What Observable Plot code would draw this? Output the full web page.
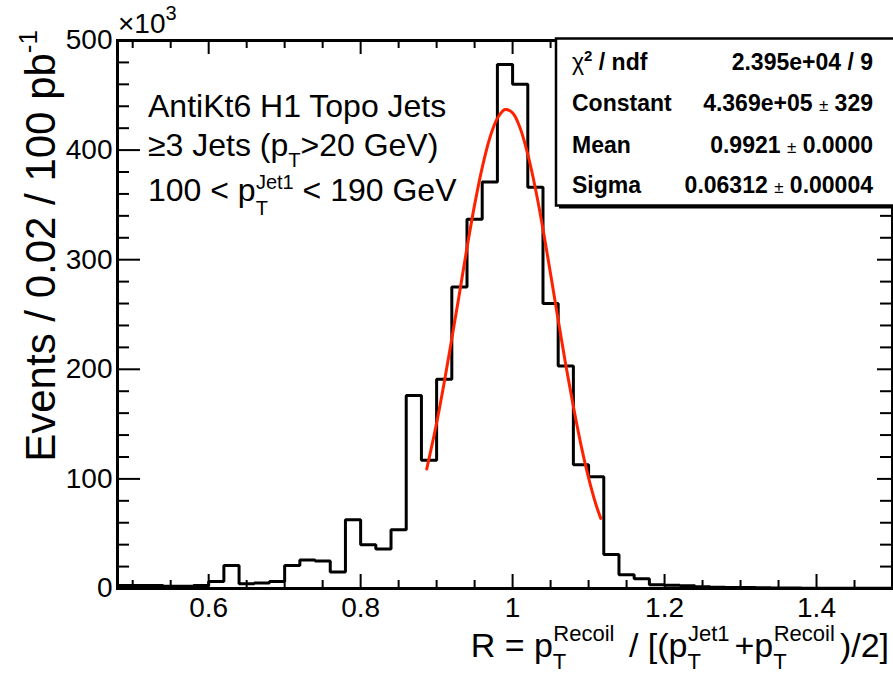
<!DOCTYPE html>
<html><head><meta charset="utf-8">
<script src="https://cdn.jsdelivr.net/npm/d3@7"></script>
<script src="https://cdn.jsdelivr.net/npm/@observablehq/plot@0.6"></script>
<style>
html,body{margin:0;padding:0;background:#fff;}
svg{display:block}
</style></head><body><div id="chart"></div>
<script>
// ---------- data ----------
const binLeft = [0.48,0.50,0.52,0.54,0.56,0.58,0.60,0.62,0.64,0.66,0.68,0.70,0.72,0.74,0.76,0.78,0.80,0.82,0.84,0.86,0.88,0.90,0.92,0.94,0.96,0.98,1.00,1.02,1.04,1.06,1.08,1.10,1.12,1.14,1.16,1.18,1.20,1.22,1.24,1.26,1.28,1.30,1.32,1.34,1.36,1.38,1.40,1.42,1.44,1.46,1.48];
const binRightEdge = 1.50;
// events per bin, in units of 10^3
const counts = [2.7,2.7,2.7,2.1,2.1,2.7,6.5,21,4.3,5.0,6.5,21,26,25,15,62.7,40,36,53.5,176,117,191,275,337,371,478,460,366,260,203,113,102,31,12.5,9,3.5,3,2.5,1.5,1.2,1.0,0.8,0.6,0.5,0.4,0.3,0.3,0.3,0.3,0.3,0.3];
// gaussian fit curve (x, 10^3 events)
const fitX = [0.887,0.90,0.91,0.92,0.93,0.94,0.95,0.96,0.97,0.98,0.99,1.00,1.01,1.02,1.03,1.04,1.05,1.06,1.07,1.08,1.09,1.10,1.11,1.116];
const fitY = [109,151,188,228,269,311,350,384,411,429,437,434,420,396,365,328,287,245,204,166,131,101,76,64];
// axis ticks
const xMajor = [0.6,0.8,1,1.2,1.4];
const xMinor = [0.5,0.55,0.65,0.7,0.75,0.85,0.9,0.95,1.05,1.1,1.15,1.25,1.3,1.35,1.45,1.5];
const yMajor = [0,100,200,300,400,500];
const yMinor = [20,40,60,80,120,140,160,180,220,240,260,280,320,340,360,380,420,440,460,480];
// fit statistics
const statNames = ["chi2","Constant","Mean","Sigma"];
const statValues = [["2.395e+04 / 9"],["4.369e+05","329"],["0.9921","0.0000"],["0.06312","0.00004"]];

// ---------- build ----------
const histPts = binLeft.map((x,i)=>({x, y:counts[i]}));
histPts.push({x:binRightEdge, y:counts[counts.length-1]});
const fitPts = fitX.map((x,i)=>({x, y:fitY[i]}));

const W=893,H=673,mL=117,mR=1,mT=40,mB=85;
const innerW=W-mL-mR, innerH=H-mT-mB;
const FONT="'Liberation Sans', Helvetica, Arial, sans-serif";

const plot = Plot.plot({
  width:W, height:H, marginLeft:mL, marginRight:mR, marginTop:mT, marginBottom:mB,
  style:{fontFamily:FONT, background:"#fff", color:"#000", overflow:"visible"},
  x:{domain:[0.48,1.5]},
  y:{domain:[0,500]},
  marks:[
    Plot.line(histPts,{x:"x",y:"y",curve:"step-after",stroke:"#000",strokeWidth:3,strokeLinejoin:"miter",strokeLinecap:"butt"}),
    Plot.line(fitPts,{x:"x",y:"y",curve:"catmull-rom",stroke:"#ff2200",strokeWidth:3}),
    Plot.tickX(xMinor,{x:d=>d,insetTop:innerH-8,stroke:"#000",strokeWidth:2}),
    Plot.tickX(xMajor,{x:d=>d,insetTop:innerH-14,stroke:"#000",strokeWidth:2}),
    Plot.tickX(xMinor,{x:d=>d,insetBottom:innerH-8,stroke:"#000",strokeWidth:2}),
    Plot.tickX(xMajor,{x:d=>d,insetBottom:innerH-14,stroke:"#000",strokeWidth:2}),
    Plot.tickY(yMinor,{y:d=>d,insetRight:innerW-12,stroke:"#000",strokeWidth:2}),
    Plot.tickY(yMajor,{y:d=>d,insetRight:innerW-23,stroke:"#000",strokeWidth:2}),
    Plot.tickY(yMinor,{y:d=>d,insetLeft:innerW-12,stroke:"#000",strokeWidth:2}),
    Plot.tickY(yMajor,{y:d=>d,insetLeft:innerW-15,stroke:"#000",strokeWidth:2}),
    Plot.frame({stroke:"#000",strokeWidth:3}),
    Plot.axisX(xMajor,{tickSize:0,tickPadding:9,fontSize:28,tickFormat:d=>String(d),label:null}),
    Plot.axisY(yMajor,{tickSize:0,tickPadding:5,fontSize:28,label:null})
  ]
});
document.getElementById("chart").appendChild(plot);

const svg = d3.select(plot);
// rich text helper: segments {t, s: size, b: baseline shift up, dx, w: weight, f: family}
function rich(parent, x, y, anchor, segs, base, transform){
  const t = parent.append("text").attr("text-anchor",anchor).attr("fill","#000")
    .style("font-family",FONT).style("font-size",base+"px");
  if (transform) t.attr("transform",transform); else t.attr("x",x).attr("y",y);
  let prev=0;
  for (const sg of segs){
    const b = sg.b||0;
    const ts = t.append("tspan").text(sg.t).attr("font-size",(sg.s||base)+"px");
    if (b!==prev) ts.attr("dy",-(b-prev));
    if (sg.dx) ts.attr("dx",sg.dx);
    if (sg.w) ts.attr("font-weight",sg.w);
    if (sg.f) ts.style("font-family",sg.f);
    prev=b;
  }
  return t;
}
const g = svg.append("g");
// x10^3
rich(g,118,33,"start",[{t:"×10"},{t:"3",s:20,b:13}],28);
// y title
rich(g,0,0,"end",[{t:"Events / 0.02 / 100 pb"},{t:"-1",s:26,b:18}],42,"translate(55,30) rotate(-90)");
// x title
const sub={s:22,b:-12}, sup=(t)=>({t,s:22,b:16,dx:-13});
rich(g,889,657,"end",[
  {t:"R = p"},{t:"T",...sub},sup("Recoil"),{t:" / [(p",b:0,dx:5},{t:"T",...sub},sup("Jet1"),
  {t:"+p",b:0,dx:5},{t:"T",...sub},sup("Recoil"),{t:")/2]",b:0,dx:5}],34);
// left annotation
rich(g,148,117,"start",[{t:"AntiKt6 H1 Topo Jets"}],32);
rich(g,148,156,"start",[{t:"≥3 Jets (p"},{t:"T",s:20,b:-11},{t:">20 GeV)",b:0}],32);
rich(g,148,201,"start",[{t:"100 < p"},{t:"T",s:20,b:-14},{t:"Jet1",s:20,b:12,dx:-12},{t:" < 190 GeV",b:0}],32);

// stats box
const bx=556, by=38.5, bw=345, bh=167;
g.append("rect").attr("x",bx+3).attr("y",by+3).attr("width",bw).attr("height",bh).attr("fill","#000");
g.append("rect").attr("x",bx).attr("y",by).attr("width",bw).attr("height",bh).attr("fill","#fff").attr("stroke","#000").attr("stroke-width",2.5);
const rowY=[70,111,153,193];
const lx=572, rx=873;
statNames.forEach((n,i)=>{
  if (n==="chi2") rich(g,lx,rowY[i],"start",[{t:"χ",w:"normal"},{t:"2",s:15,b:9,w:"bold"},{t:" / ndf",b:0,w:"bold"}],23);
  else rich(g,lx,rowY[i],"start",[{t:n,w:"bold"}],23);
  const v=statValues[i];
  if (v.length===1) rich(g,rx,rowY[i],"end",[{t:v[0],w:"bold"}],23);
  else rich(g,rx,rowY[i],"end",[{t:v[0]+" ",w:"bold"},{t:"±",s:17,w:"normal"},{t:" "+v[1],w:"bold"}],23);
});
</script></body></html>
